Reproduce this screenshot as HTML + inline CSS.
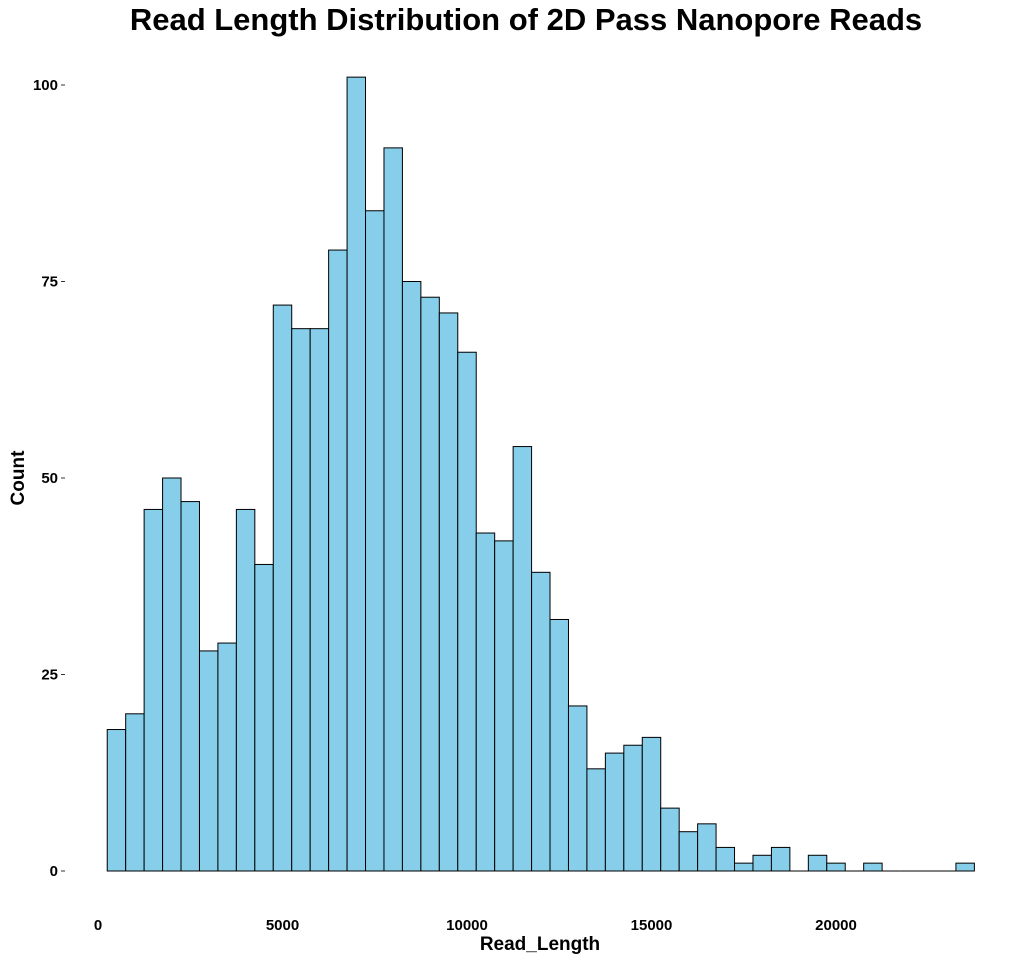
<!DOCTYPE html>
<html><head><meta charset="utf-8"><style>
body{margin:0;background:#fff;font-family:"Liberation Sans",sans-serif;}
</style></head><body>
<svg id="c" width="1024" height="960">
<text x="526" y="30" text-anchor="middle" font-size="31" font-weight="bold">Read Length Distribution of 2D Pass Nanopore Reads</text>
<text x="540" y="950" text-anchor="middle" font-size="19" font-weight="bold">Read_Length</text>
<text transform="translate(24,478) rotate(-90)" text-anchor="middle" font-size="19" font-weight="bold">Count</text>
<g id="bars"></g><g id="axes"></g>
</svg>
<script>
const binStart = 250;
const binWidth = 500;
const counts = [18,20,46,50,47,28,29,46,39,72,69,69,79,101,84,92,75,73,71,66,43,42,54,38,32,21,13,15,16,17,8,5,6,3,1,2,3,0,2,1,0,1,0,0,0,0,1];
const xTicks = [0,5000,10000,15000,20000];
const yTicks = [0,25,50,75,100];
const NS="http://www.w3.org/2000/svg";
const xs = v => 98 + v*(836-98)/20000;
const ys = v => 871 - v*(871-85)/100;
const bars=document.getElementById('bars'), axes=document.getElementById('axes');
counts.forEach((c,i)=>{
  const x0=xs(binStart+i*binWidth), x1=xs(binStart+(i+1)*binWidth);
  if(c===0){
    const l=document.createElementNS(NS,'line');
    l.setAttribute('x1',x0);l.setAttribute('x2',x1);l.setAttribute('y1',ys(0));l.setAttribute('y2',ys(0));
    l.setAttribute('stroke','#000');
    
    
    bars.appendChild(l);
    return;
  }
  const r=document.createElementNS(NS,'rect');
  r.setAttribute('x',x0);r.setAttribute('width',x1-x0);
  r.setAttribute('y',ys(c));r.setAttribute('height',ys(0)-ys(c));
  r.setAttribute('fill','#87ceeb');r.setAttribute('stroke','#000');r.setAttribute('stroke-width','1');
  
  
  bars.appendChild(r);
});
xTicks.forEach(t=>{
  const tx=document.createElementNS(NS,'text');
  tx.setAttribute('x',xs(t));tx.setAttribute('y',930);tx.setAttribute('text-anchor','middle');
  tx.setAttribute('font-size','15');tx.setAttribute('font-weight','bold');tx.textContent=t;
  
  
  axes.appendChild(tx);
});
yTicks.forEach(t=>{
  const tx=document.createElementNS(NS,'text');
  tx.setAttribute('x',58);tx.setAttribute('y',ys(t)+5);tx.setAttribute('text-anchor','end');
  tx.setAttribute('font-size','15');tx.setAttribute('font-weight','bold');tx.textContent=t;
  
  
  axes.appendChild(tx);
  const l=document.createElementNS(NS,'line');
  l.setAttribute('x1',61);l.setAttribute('x2',65);l.setAttribute('y1',ys(t));l.setAttribute('y2',ys(t));
  l.setAttribute('stroke','#333');
  
  
  axes.appendChild(l);
});
</script>
</body></html>
